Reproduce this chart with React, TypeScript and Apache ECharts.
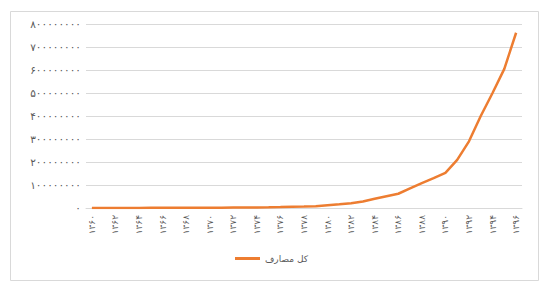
import React, { useEffect, useRef } from "react";
import * as echarts from "echarts";

const years = [
  "۱۳۶۰", "۱۳۶۱", "۱۳۶۲", "۱۳۶۳", "۱۳۶۴", "۱۳۶۵", "۱۳۶۶", "۱۳۶۷", "۱۳۶۸", "۱۳۶۹",
  "۱۳۷۰", "۱۳۷۱", "۱۳۷۲", "۱۳۷۳", "۱۳۷۴", "۱۳۷۵", "۱۳۷۶", "۱۳۷۷", "۱۳۷۸", "۱۳۷۹",
  "۱۳۸۰", "۱۳۸۱", "۱۳۸۲", "۱۳۸۳", "۱۳۸۴", "۱۳۸۵", "۱۳۸۶", "۱۳۸۷", "۱۳۸۸", "۱۳۸۹",
  "۱۳۹۰", "۱۳۹۱", "۱۳۹۲", "۱۳۹۳", "۱۳۹۴", "۱۳۹۵", "۱۳۹۶",
];

const totalExpenses = [
  300000, 350000, 400000, 450000, 500000, 550000, 600000, 700000, 800000, 1000000,
  1200000, 1500000, 1800000, 2100000, 2600000, 3200000, 4000000, 5000000, 6000000, 7500000,
  12000000, 16000000, 21000000, 28000000, 40000000, 51000000, 62000000, 85000000, 108000000, 130000000,
  153000000, 209000000, 290000000, 400000000, 500000000, 605000000, 762000000,
];

const yTickLabels = [
  "۰", "۱۰۰۰۰۰۰۰۰", "۲۰۰۰۰۰۰۰۰", "۳۰۰۰۰۰۰۰۰", "۴۰۰۰۰۰۰۰۰",
  "۵۰۰۰۰۰۰۰۰", "۶۰۰۰۰۰۰۰۰", "۷۰۰۰۰۰۰۰۰", "۸۰۰۰۰۰۰۰۰",
];

const seriesName = "کل مصارف";

export default function App() {
  const ref = useRef<HTMLDivElement>(null);
  useEffect(() => {
    if (!ref.current) return;
    const chart = echarts.init(ref.current, null, { renderer: "svg" });
    const step = 100000000;
    chart.setOption({
      animation: false,
      textStyle: { fontFamily: "DejaVu Sans" },
      graphic: [
        {
          type: "rect",
          shape: { x: 10.5, y: 11.5, width: 528, height: 269 },
          style: { fill: "none", stroke: "#D9D9D9", lineWidth: 1 },
          silent: true,
        },
      ],
      grid: { left: 86, right: 21, top: 24, bottom: 78, containLabel: false },
      xAxis: {
        type: "category",
        data: years,
        boundaryGap: true,
        axisLine: { lineStyle: { color: "#D9D9D9" } },
        axisTick: { show: false },
        axisLabel: {
          rotate: 90,
          interval: 1,
          color: "#595959",
          fontSize: 9,
          margin: 7,
        },
      },
      yAxis: {
        type: "value",
        min: 0,
        max: step * 8,
        interval: step,
        axisLine: { show: false },
        axisTick: { show: false },
        splitLine: { lineStyle: { color: "#D9D9D9", width: 1 } },
        axisLabel: {
          color: "#595959",
          fontSize: 10.5,
          margin: 5,
          formatter: (v: number) => yTickLabels[Math.round(v / step)] ?? "",
        },
      },
      legend: {
        bottom: 18,
        left: "center",
        itemWidth: 25,
        itemHeight: 3,
        itemGap: 4,
        textStyle: { color: "#595959", fontSize: 9, fontFamily: "DejaVu Sans" },
        data: [{ name: seriesName, icon: "rect" }],
      },
      series: [
        {
          name: seriesName,
          type: "line",
          data: totalExpenses,
          symbol: "none",
          lineStyle: { color: "#ED7D31", width: 2.5 },
          itemStyle: { color: "#ED7D31" },
        },
      ],
    });
    return () => chart.dispose();
  }, []);
  return (
    <div
      ref={ref}
      style={{ position: "absolute", left: 0, top: 0, width: 543, height: 286, background: "#fff" }}
    />
  );
}
